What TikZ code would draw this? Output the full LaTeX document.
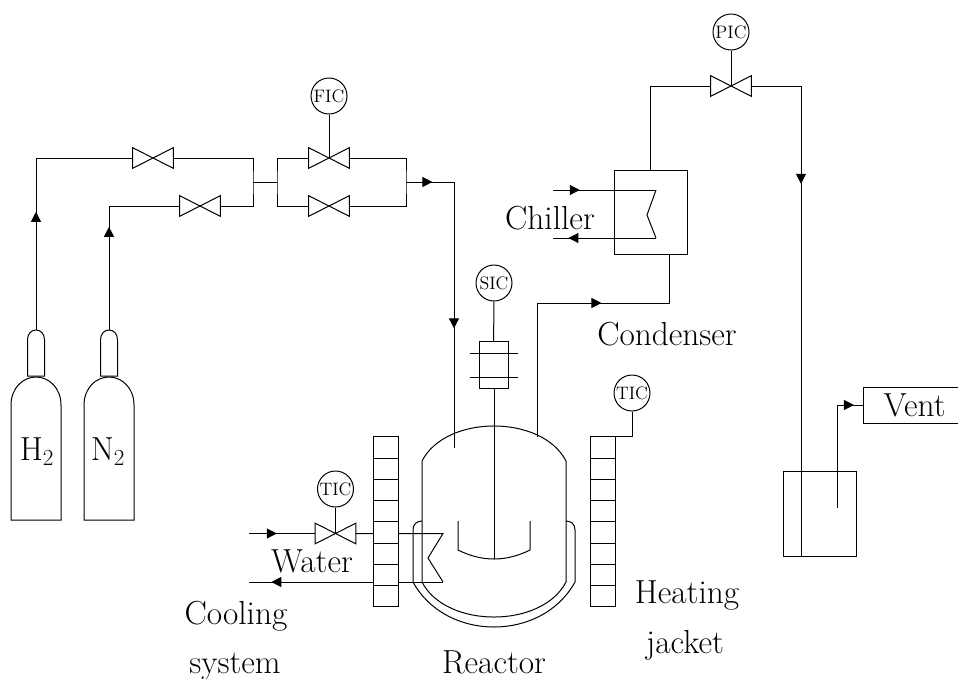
\documentclass[tikz,border=0pt]{standalone}
\usepackage{amsmath}
\usepackage{fontspec}
\usetikzlibrary{arrows.meta, decorations.markings}
\tikzset{
  pipe/.style={line width=0.75pt},
  flow/.style={postaction={decorate}, decoration={markings, mark=at position #1 with {\arrow{Triangle[length=7.5pt, width=7.5pt]}}}},
  valvebox/.style={minimum width=30.5pt, minimum height=15.5pt, inner sep=0pt, outer sep=0pt},
  instrument/.style={circle, draw, line width=0.75pt, fill=white, minimum size=27pt, inner sep=0pt, font=\fontsize{13.5}{15}\selectfont},
  bandcell/.style={rectangle, draw, line width=0.75pt, fill=white, minimum width=18.75pt, minimum height=15.93pt, inner sep=0pt, outer sep=0pt},
  vesselbox/.style={rectangle, draw, line width=0.75pt, inner sep=0pt, outer sep=0pt},
  plainlabel/.style={font=\fontsize{25}{29}\selectfont, inner sep=0pt},
}
\newcommand{\valveshape}[1]{\draw[pipe] (#1.south west) -- (#1.north east) -- (#1.south east) -- (#1.north west) -- cycle;}
\begin{document}
\begin{tikzpicture}[x=0.75pt, y=-0.75pt]
  \useasboundingbox (0,0) rectangle (958,679);
  % gasflasker
  \foreach \cx in {36,109} {
    \draw[pipe] (\cx-25,520) -- (\cx-25,405) .. controls (\cx-25,388) and (\cx-13,377) .. (\cx,377)
      .. controls (\cx+13,377) and (\cx+25,388) .. (\cx+25,405) -- (\cx+25,520) -- cycle;
    \draw[pipe] (\cx-8.5,376) -- (\cx-8.5,340) .. controls (\cx-8.5,334) and (\cx-5,330) .. (\cx,330)
      .. controls (\cx+5,330) and (\cx+8.5,334) .. (\cx+8.5,340) -- (\cx+8.5,376) -- cycle;
  }
  \node[plainlabel] (htwo) at (37,452) {H$_2$};
  \node[plainlabel] (ntwo) at (108,452) {N$_2$};
  \coordinate (hneck) at (36,330);
  \coordinate (nneck) at (109,330);
  % ventiler
  \node[valvebox] (vh) at (153,158) {};
  \node[valvebox] (vn) at (200,206) {};
  \node[valvebox] (vf) at (329,158) {};
  \node[valvebox] (vb) at (329,206) {};
  \node[valvebox] (vp) at (731,86) {};
  \node[valvebox] (vw) at (335.5,533.5) {};
  \foreach \vname in {vh,vn,vf,vb,vp,vw} {\valveshape{\vname}}
  % instrumenter
  \node[instrument] (fic) at (329,96) {FIC};
  \node[instrument] (pic) at (731,32) {PIC};
  \node[instrument] (sic) at (494,283) {SIC};
  \node[instrument] (tictop) at (632,393) {TIC};
  \node[instrument] (ticw) at (335.5,489) {TIC};
  \draw[pipe] (fic) -- (vf.center);
  \draw[pipe] (pic) -- (vp.center);
  \draw[pipe] (ticw) -- (vw.center);
  % gasledninger
  \coordinate (ja) at (253,182);
  \coordinate (jb) at (277,182);
  \coordinate (jc) at (406,182);
  \coordinate (elbow) at (454,182);
  \coordinate (inlet) at (454,448);
  \draw[pipe, flow=.44] (hneck) |- (vh.west);
  \draw[pipe, flow=.53] (nneck) |- (vn.west);
  \draw[pipe] (vh.east) -| (ja) |- (vn.east);
  \draw[pipe] (ja) -- (jb);
  \draw[pipe] (vf.west) -| (jb) |- (vb.west);
  \draw[pipe] (vf.east) -| (jc) |- (vb.east);
  \draw[pipe, flow=.55] (jc) -- (elbow);
  \draw[pipe, flow=.55] (elbow) -- (inlet);
  % reaktor
  \draw[pipe] (422,582) -- (422,461) .. controls (446,414.3) and (542,414.3) .. (566,461)
    -- (566,582) .. controls (542,628.7) and (446,628.7) .. (422,582) -- cycle;
  \draw[pipe] (422,521) .. controls (417,521) and (413,524) .. (413,530) -- (413,582)
    .. controls (446,642) and (542,642) .. (575,582) -- (575,530)
    .. controls (575,524) and (571,521) .. (566,521);
  \draw[pipe] (458,521) -- (458,550) .. controls (482,562) and (506,562) .. (530,550) -- (530,521);
  \draw[pipe] (494,388) -- (494,559);
  \node[vesselbox, minimum width=21.75pt, minimum height=35.25pt] (gland) at (493.5,364.5) {};
  \draw[pipe] (sic) -- (gland);
  \draw[pipe] (470,353) -- (518,353);
  \draw[pipe] (470,377) -- (518,377);
  % kondensator
  \node[vesselbox, minimum width=54.75pt, minimum height=63pt] (cond) at (650.5,212) {};
  \coordinate (chillin) at (553,190);
  \coordinate (chillout) at (553,238);
  \draw[pipe, flow=.26] (chillin) -- (656,190);
  \draw[pipe] (656,190) -- (647,215) -- (656,238);
  \draw[pipe, flow=.85] (656,238) -- (chillout);
  \coordinate (condtop) at (650,170);
  \coordinate (condbot) at (669,254);
  \coordinate (vesselout) at (537,437);
  \draw[pipe] (condtop) |- (vp.west);
  \draw[pipe, flow=.63] (vesselout) |- (condbot |- 0,303) -- (condbot);
  % udluftning
  \node[vesselbox, minimum width=54.75pt, minimum height=63.75pt] (tank) at (819.5,513.5) {};
  \node[vesselbox, minimum width=73.5pt, minimum height=27pt, font=\fontsize{25}{29}\selectfont, xshift=0pt] (vent) at (912,405) {\hspace*{4pt}Vent};
  \coordinate (tankin) at (801,556);
  \coordinate (tankout) at (837,508);
  \coordinate (corner) at (801,86);
  \draw[pipe] (vp.east) -- (corner);
  \draw[pipe, flow=.208] (corner) -- (tankin);
  \draw[pipe, flow=.93] (tankout) |- (vent.west);
  % varmekappe
  \coordinate (water) at (249,533.5);
  \coordinate (waterout) at (249,582);
  \draw[pipe, flow=.42] (water) -- (vw.west);
  \draw[pipe] (vw.east) -- (443,533.5) -- (428,558) -- (443,582);
  \draw[pipe, flow=.885] (443,582) -- (waterout);
  \foreach \i in {0,...,7} {
    \node[bandcell] (lb\i) at (385.5,447.6+21.25*\i) {};
    \node[bandcell] (rb\i) at (602.5,447.6+21.25*\i) {};
  }
  \draw[pipe] (tictop) |- (rb0.north east);
  % tekster
  \node[plainlabel] (chiller) at (550,218) {Chiller};
  \node[plainlabel] (condenser) at (667,334) {Condenser};
  \node[plainlabel] (waterlabel) at (312,561) {Water};
  \node[plainlabel] (cooling) at (236,616) {Cooling};
  \node[plainlabel] (system) at (235,667) {system};
  \node[plainlabel] (reactor) at (494,662) {Reactor};
  \node[plainlabel] (heating) at (687,596) {Heating};
  \node[plainlabel] (jacket) at (685,645) {jacket};
\end{tikzpicture}
\end{document}
